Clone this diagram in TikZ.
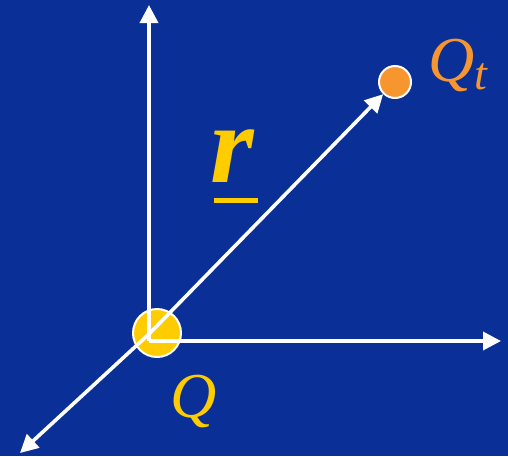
\documentclass[tikz,border=0pt]{standalone}
\usepackage{fontspec}
\setmainfont{Liberation Serif}
\usetikzlibrary{positioning, arrows.meta}
\definecolor{slideblue}{HTML}{0A2F96}
\definecolor{chargeyellow}{HTML}{FFCC00}
\definecolor{testorange}{HTML}{F7962E}

\begin{document}
\begin{tikzpicture}[x=1pt, y=-1pt,
  axis/.style={draw=white, line width=3.6pt, -{Triangle[length=18pt, width=18pt]}},
  charge/.style={circle, draw=white, line width=2pt, inner sep=0pt}]
\fill[slideblue] (0,0) rectangle (508,456);
\useasboundingbox (0,0) rectangle (508,456);
% origin and axis ends
\coordinate (o) at (149,341);
\coordinate (d) at (149,334);
\coordinate (ytip) at (149,5);
\coordinate (xtip) at (501,341);
\coordinate (ztip) at (20,453);
\node[charge, fill=chargeyellow, minimum size=48pt] (q) at (157,333) {};
\node[charge, fill=testorange, minimum size=32pt] (qt) at (395,82) {};
\draw[axis] (o) -- (ytip);
\draw[axis] (o) -- (xtip);
\draw[axis] (d) -- (ztip);
\draw[axis] (d) -- (qt);
% labels
\node[inner sep=0pt, anchor=base west, text=chargeyellow, font=\fontsize{64}{64}\selectfont\itshape] (qlabel) at (170,417) {Q};
\node[inner sep=0pt, anchor=base west, text=testorange, font=\fontsize{64}{64}\selectfont\itshape] (qtlabel) at (428,81) {Q\raisebox{-8pt}{\fontsize{46}{46}\selectfont t}};
\node[inner sep=0pt, anchor=base west, text=chargeyellow, font=\fontsize{112}{112}\selectfont\bfseries\itshape] (rlabel) at (210,182) {r};
\draw[chargeyellow, line width=5pt] ([yshift=-18pt,xshift=4pt]rlabel.base west) -- ([yshift=-18pt,xshift=4pt]rlabel.base east);
\end{tikzpicture}
\end{document}
